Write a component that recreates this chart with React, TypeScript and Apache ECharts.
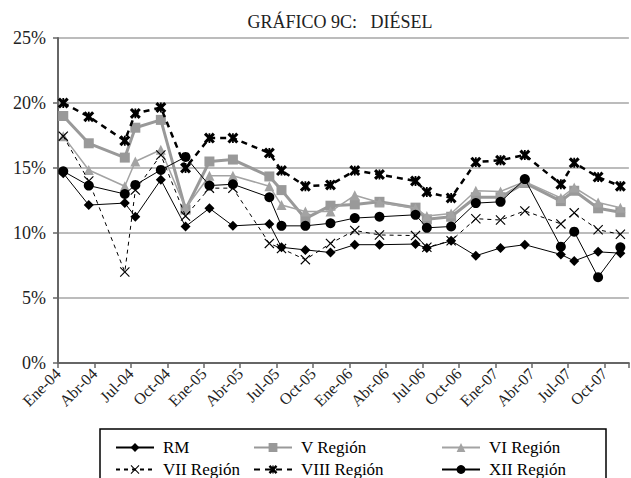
import React, { useEffect, useRef } from "react";
import * as echarts from "echarts";

const dates = [
  "2004-01-14", "2004-03-17", "2004-06-16", "2004-07-12", "2004-09-15", "2004-11-16",
  "2005-01-15", "2005-03-13", "2005-06-13", "2005-07-13", "2005-09-12", "2005-11-14",
  "2006-01-14", "2006-03-15", "2006-06-14", "2006-07-12", "2006-09-12", "2006-11-13",
  "2007-01-14", "2007-03-14", "2007-06-13", "2007-07-16", "2007-09-15", "2007-11-10",
];

const rm = [14.6, 12.15, 12.3, 11.25, 14.1, 10.5, 11.9, 10.55, 10.7, 8.9, 8.7, 8.5, 9.1, 9.1, 9.15, 8.85, 9.4, 8.25, 8.85, 9.1, 8.35, 7.85, 8.55, 8.45];
const vRegion = [19.0, 16.9, 15.8, 18.1, 18.7, 11.8, 15.5, 15.65, 14.35, 13.3, 11.1, 12.1, 12.2, 12.4, 11.95, 11.05, 11.25, 12.75, 12.75, 13.85, 12.45, 13.25, 11.9, 11.6];
const viRegion = [17.45, 14.85, 13.6, 15.5, 16.4, 11.9, 14.4, 14.4, 13.6, 12.15, 11.65, 11.65, 12.9, 12.35, 11.9, 11.3, 11.5, 13.25, 13.2, 13.95, 12.7, 13.5, 12.35, 11.95];
const viiRegion = [17.45, 14.0, 7.0, 13.3, 16.0, 11.3, 13.45, 13.45, 9.2, 8.8, 7.95, 9.2, 10.2, 9.85, 9.8, 8.9, 9.4, 11.1, 11.0, 11.7, 10.7, 11.55, 10.25, 9.9];
const viiiRegion = [20.0, 18.95, 17.1, 19.2, 19.65, 15.0, 17.3, 17.3, 16.15, 14.8, 13.6, 13.7, 14.8, 14.5, 14.0, 13.15, 12.7, 15.45, 15.6, 16.0, 13.75, 15.4, 14.3, 13.6];
const xiiRegion = [14.75, 13.65, 13.0, 13.7, 14.85, 15.85, 13.65, 13.75, 12.75, 10.55, 10.55, 10.75, 11.15, 11.25, 11.4, 10.4, 10.5, 12.3, 12.4, 14.15, 8.95, 10.1, 6.6, 8.9];

const monthNames = ["Ene", "Feb", "Mar", "Abr", "May", "Jun", "Jul", "Ago", "Sep", "Oct", "Nov", "Dic"];
const yTicks = [0, 5, 10, 15, 20, 25];
const seriesNames = ["RM", "V Región", "VI Región", "VII Región", "VIII Región", "XII Región"];

const FONT = "'Liberation Serif', 'DejaVu Serif', serif";

function toMonths(d: string): number {
  const [y, m, day] = d.split("-").map(Number);
  return (y - 2004) * 12 + (m - 1) + (day - 1) / 30;
}

const X_THIN = "path://M0,0.8L0.8,0L5,4.2L9.2,0L10,0.8L5.8,5L10,9.2L9.2,10L5,5.8L0.8,10L0,9.2L4.2,5Z";
const X_BOLD =
  "path://M0,2L2,0L5,3L8,0L10,2L7,5L10,8L8,10L5,7L2,10L0,8L3,5Z M4.2,0.5L5.8,0.5L5.8,9.5L4.2,9.5Z";

export default function App() {
  const ref = useRef<HTMLDivElement>(null);
  useEffect(() => {
    if (!ref.current) return;
    const chart = echarts.init(ref.current, undefined, { renderer: "svg" });
    const xs = dates.map(toMonths);
    const pts = (vals: number[]) => vals.map((v, i) => [xs[i], v]);

    const legendPos = [
      { left: 110, top: 434 },
      { left: 248, top: 434 },
      { left: 436, top: 434 },
      { left: 110, top: 456 },
      { left: 248, top: 456 },
      { left: 436, top: 456 },
    ];

    const option: any = {
      animation: false,
      backgroundColor: "#fff",
      grid: { left: 58, top: 38, bottom: 115, right: -8, containLabel: false },
      graphic: [
        {
          type: "text",
          x: 340,
          y: 22,
          style: {
            text: "GRÁFICO 9C:   DIÉSEL",
            font: `18px ${FONT}`,
            fill: "#222",
            textAlign: "center",
            textVerticalAlign: "middle",
          },
        },
        {
          type: "rect",
          z: -1,
          shape: { x: 100, y: 429, width: 506, height: 70 },
          style: { fill: "none", stroke: "#000", lineWidth: 1.5 },
        },
      ],
      legend: seriesNames.map((n, i) => ({
        data: [n],
        left: legendPos[i].left,
        top: legendPos[i].top,
        itemWidth: 38,
        itemHeight: 11,
        itemGap: 0,
        selectedMode: false,
        textStyle: { fontFamily: FONT, fontSize: 17, color: "#000", padding: [0, 0, 0, 4] },
      })),
      xAxis: {
        type: "value",
        min: 0,
        max: 47,
        interval: 3,
        axisLine: { show: true, lineStyle: { color: "#666", width: 2 } },
        axisTick: { show: true, length: 5, lineStyle: { color: "#666", width: 1.5 } },
        splitLine: { show: false },
        axisLabel: {
          rotate: 45,
          margin: 8,
          fontFamily: FONT,
          fontSize: 16,
          color: "#222",
          formatter: (v: number) => {
            if (v % 3 !== 0) return "";
            const y = 4 + Math.floor(v / 12);
            return `${monthNames[v % 12]}-0${y}`;
          },
        },
      },
      yAxis: {
        type: "value",
        min: yTicks[0],
        max: yTicks[yTicks.length - 1],
        interval: 5,
        axisLine: { show: true, lineStyle: { color: "#666", width: 2 } },
        axisTick: { show: true, length: 5, lineStyle: { color: "#666", width: 1.5 } },
        splitLine: { show: true, lineStyle: { color: "#a6a6a6", width: 1.5 } },
        axisLabel: {
          margin: 12,
          fontFamily: FONT,
          fontSize: 18,
          color: "#222",
          formatter: "{value}%",
        },
      },
      series: [
        {
          name: "RM",
          type: "line",
          data: pts(rm),
          symbol: "diamond",
          symbolSize: 10,
          lineStyle: { color: "#000", width: 1 },
          itemStyle: { color: "#000" },
          z: 6,
        },
        {
          name: "V Región",
          type: "line",
          data: pts(vRegion),
          symbol: "rect",
          symbolSize: 10,
          lineStyle: { color: "#999", width: 3 },
          itemStyle: { color: "#999" },
          z: 3,
        },
        {
          name: "VI Región",
          type: "line",
          data: pts(viRegion),
          symbol: "triangle",
          symbolSize: 10,
          lineStyle: { color: "#a3a3a3", width: 1.5 },
          itemStyle: { color: "#a3a3a3" },
          z: 4,
        },
        {
          name: "VII Región",
          type: "line",
          data: pts(viiRegion),
          symbol: X_THIN,
          symbolSize: 10,
          lineStyle: { color: "#000", width: 1, type: [4, 4] },
          itemStyle: { color: "#000" },
          z: 5,
        },
        {
          name: "VIII Región",
          type: "line",
          data: pts(viiiRegion),
          symbol: X_BOLD,
          symbolSize: 11,
          lineStyle: { color: "#000", width: 2.5, type: [6, 5] },
          itemStyle: { color: "#000" },
          z: 5,
        },
        {
          name: "XII Región",
          type: "line",
          data: pts(xiiRegion),
          symbol: "circle",
          symbolSize: 10,
          lineStyle: { color: "#000", width: 1 },
          itemStyle: { color: "#000" },
          z: 6,
        },
      ],
    };
    chart.setOption(option);
    return () => chart.dispose();
  }, []);
  return (
    <div
      ref={ref}
      style={{ position: "fixed", left: 0, top: 0, width: 631, height: 478, overflow: "hidden", background: "#fff" }}
    />
  );
}
